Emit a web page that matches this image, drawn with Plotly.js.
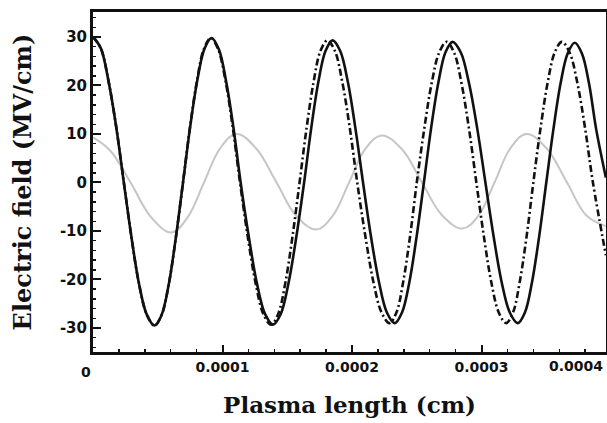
<!DOCTYPE html>
<html>
<head>
<meta charset="utf-8">
<script src="https://cdn.plot.ly/plotly-3.0.1.min.js"></script>
<style>
  html, body { margin: 0; padding: 0; background: #fff; overflow: hidden; }
  #chart { width: 607px; height: 423px; }
</style>
</head>
<body>
<div id="chart"></div>
<script>
// Plasma length in units of 1e-5 cm, electric field in MV/cm
const X_UNIT = 1e-5;

const solidX = [0, 0.6, 1.19, 1.79, 2.38,
  2.97, 3.56, 4.16, 4.75,
  5.3, 5.85, 6.4, 6.95,
  7.5, 8.05, 8.6, 9.15,
  9.71, 10.27, 10.84, 11.4,
  12.03, 12.65, 13.28, 13.9,
  14.5, 15.1, 15.7, 16.3,
  16.85, 17.4, 17.95, 18.5,
  19.09, 19.68, 20.26, 20.85,
  21.46, 22.08, 22.69, 23.3,
  23.86, 24.43, 24.99, 25.55,
  26.1, 26.66, 27.21, 27.76,
  28.4, 29.03, 29.67, 30.3,
  30.93, 31.55, 32.18, 32.8,
  33.35, 33.9, 34.45, 35.0,
  35.55, 36.1, 36.65, 37.2,
  37.75, 38.3, 38.85, 39.6];
const solidY = [30, 27.7, 21, 11.5, 0,
  -11.3, -21, -27.3, -29.5,
  -27.3, -21, -11.3, 0,
  11.4, 21, 27.5, 29.8,
  27.5, 21, 11.4, 0,
  -11.2, -20.7, -27.1, -29.3,
  -27.1, -20.7, -11.2, 0,
  11.2, 20.7, 27.1, 29.3,
  27.1, 20.7, 11.2, 0,
  -11.1, -20.5, -26.8, -29,
  -26.8, -20.5, -11.1, 0,
  11.1, 20.5, 26.8, 29,
  26.8, 20.5, 11.1, 0,
  -11.1, -20.5, -26.8, -29,
  -26.8, -20.5, -11.1, 0,
  11, 20.4, 26.6, 28.8,
  26.6, 20.4, 11, 1];

const dashX = [0, 0.6, 1.19, 1.79, 2.38,
  2.97, 3.56, 4.16, 4.75,
  5.3, 5.85, 6.4, 6.95,
  7.49, 8.03, 8.56, 9.1,
  9.66, 10.23, 10.79, 11.35,
  11.95, 12.55, 13.15, 13.75,
  14.3, 14.85, 15.4, 15.95,
  16.49, 17.03, 17.56, 18.1,
  18.68, 19.25, 19.83, 20.4,
  21.03, 21.65, 22.28, 22.9,
  23.43, 23.95, 24.48, 25.0,
  25.58, 26.15, 26.73, 27.3,
  27.88, 28.45, 29.03, 29.6,
  30.18, 30.75, 31.33, 31.9,
  32.43, 32.95, 33.48, 34.0,
  34.55, 35.1, 35.65, 36.2,
  36.8, 37.4, 38.0, 38.6,
  39.6];
const dashY = [30, 27.7, 21, 11.5, 0,
  -11.3, -21, -27.3, -29.5,
  -27.3, -21, -11.3, 0,
  11.4, 21, 27.5, 29.8,
  27.5, 21, 11.4, 0,
  -11.2, -20.7, -27.1, -29.3,
  -27.1, -20.7, -11.2, 0,
  11.2, 20.7, 27.1, 29.3,
  27.1, 20.7, 11.2, 0,
  -11.1, -20.5, -26.8, -29,
  -26.8, -20.5, -11.1, 0,
  11.1, 20.5, 26.8, 29,
  26.8, 20.5, 11.1, 0,
  -11.1, -20.5, -26.8, -29,
  -26.8, -20.5, -11.1, 0,
  11.1, 20.5, 26.8, 29,
  26.8, 20.5, 11.1, 0,
  -15];

const grayX = [0, 1.35, 2.9, 4.5, 6.06,
  7.3, 8.57, 9.83, 11.08,
  12.6, 14.17, 15.7, 17.26,
  18.5, 19.77, 21.02, 22.28,
  23.84, 25.4, 26.97, 28.53,
  29.77, 31.0, 32.24, 33.47,
  35.0, 36.6, 38.1, 39.6];
const grayY = [9.3, 6.5, 0, -7.2, -10.3,
  -7.2, 0, 7.1, 10,
  7, 0, -6.9, -9.7,
  -6.9, 0, 6.9, 9.7,
  6.9, 0, -6.8, -9.5,
  -6.8, 0, 7.1, 10,
  7.1, 0, -6.8, -9];

const xTickVals = [0.0001, 0.0002, 0.0003];
const xTickText = ["0.0001", "0.0002", "0.0003"];
const xEdgeLabels = ["0", "0.0004"];
const yTickVals = [30, 20, 10, 0, -10, -20, -30];
const yTickText = ["30", "20", "10", "0", "-10", "-20", "-30"];

const toCm = arr => arr.map(v => v * X_UNIT);
const tickFont = { family: 'DejaVu Sans, Liberation Sans, Arial', size: 14, color: '#111', weight: 'bold' };

const traces = [
  { x: toCm(grayX), y: grayY, type: 'scatter', mode: 'lines',
    line: { color: '#c6c6c6', width: 2, shape: 'spline', smoothing: 1.1 }, showlegend: false },
  { x: toCm(dashX), y: dashY, type: 'scatter', mode: 'lines',
    line: { color: '#111', width: 2.6, dash: '7px,3px,2px,3px', shape: 'spline', smoothing: 1 }, showlegend: false },
  { x: toCm(solidX), y: solidY, type: 'scatter', mode: 'lines',
    line: { color: '#111', width: 2.6, shape: 'spline', smoothing: 1 }, showlegend: false }
];

const layout = {
  width: 607, height: 423,
  margin: { l: 93, r: 1, t: 12, b: 71 },
  paper_bgcolor: '#fff', plot_bgcolor: '#fff',
  showlegend: false,
  xaxis: {
    range: [0, 3.961e-4],
    tickmode: 'array', tickvals: xTickVals, ticktext: xTickText,
    ticks: 'inside', ticklen: 7, tickwidth: 2, tickcolor: '#111',
    minor: { tickmode: 'linear', tick0: 0, dtick: 0.00002, ticks: 'inside', ticklen: 3, tickwidth: 1.5, tickcolor: '#111' },
    showline: true, linecolor: '#111', linewidth: 3, mirror: true,
    showgrid: false, zeroline: false,
    tickfont: tickFont,
    title: { text: 'Plasma length (cm)', standoff: 24,
      font: { family: 'DejaVu Serif, Liberation Serif, serif', size: 23, color: '#111', weight: 'bold' } }
  },
  yaxis: {
    range: [-34.95, 35.15],
    tickmode: 'array', tickvals: yTickVals, ticktext: yTickText,
    ticks: 'inside', ticklen: 8, tickwidth: 2, tickcolor: '#111',
    minor: { tickmode: 'linear', tick0: 0, dtick: 2, ticks: 'inside', ticklen: 3, tickwidth: 1.5, tickcolor: '#111' },
    showline: true, linecolor: '#111', linewidth: 3, mirror: true,
    showgrid: false, zeroline: false,
    tickfont: { family: 'DejaVu Sans, Liberation Sans, Arial', size: 15, color: '#111', weight: 'bold' },
    title: { text: 'Electric field (MV/cm)', standoff: 22,
      font: { family: 'DejaVu Serif, Liberation Serif, serif', size: 24, color: '#111', weight: 'bold' } }
  },
  annotations: [
    { text: xEdgeLabels[0], xref: 'x', yref: 'paper', x: 0, y: 0, xshift: -7, yshift: -20,
      xanchor: 'center', yanchor: 'middle', showarrow: false, font: tickFont },
    { text: xEdgeLabels[1], xref: 'paper', yref: 'paper', x: 1, y: 0, xshift: -1, yshift: -4,
      xanchor: 'right', yanchor: 'top', showarrow: false, font: tickFont }
  ]
};

Plotly.newPlot('chart', traces, layout, { displayModeBar: false, staticPlot: true });
</script>
</body>
</html>
